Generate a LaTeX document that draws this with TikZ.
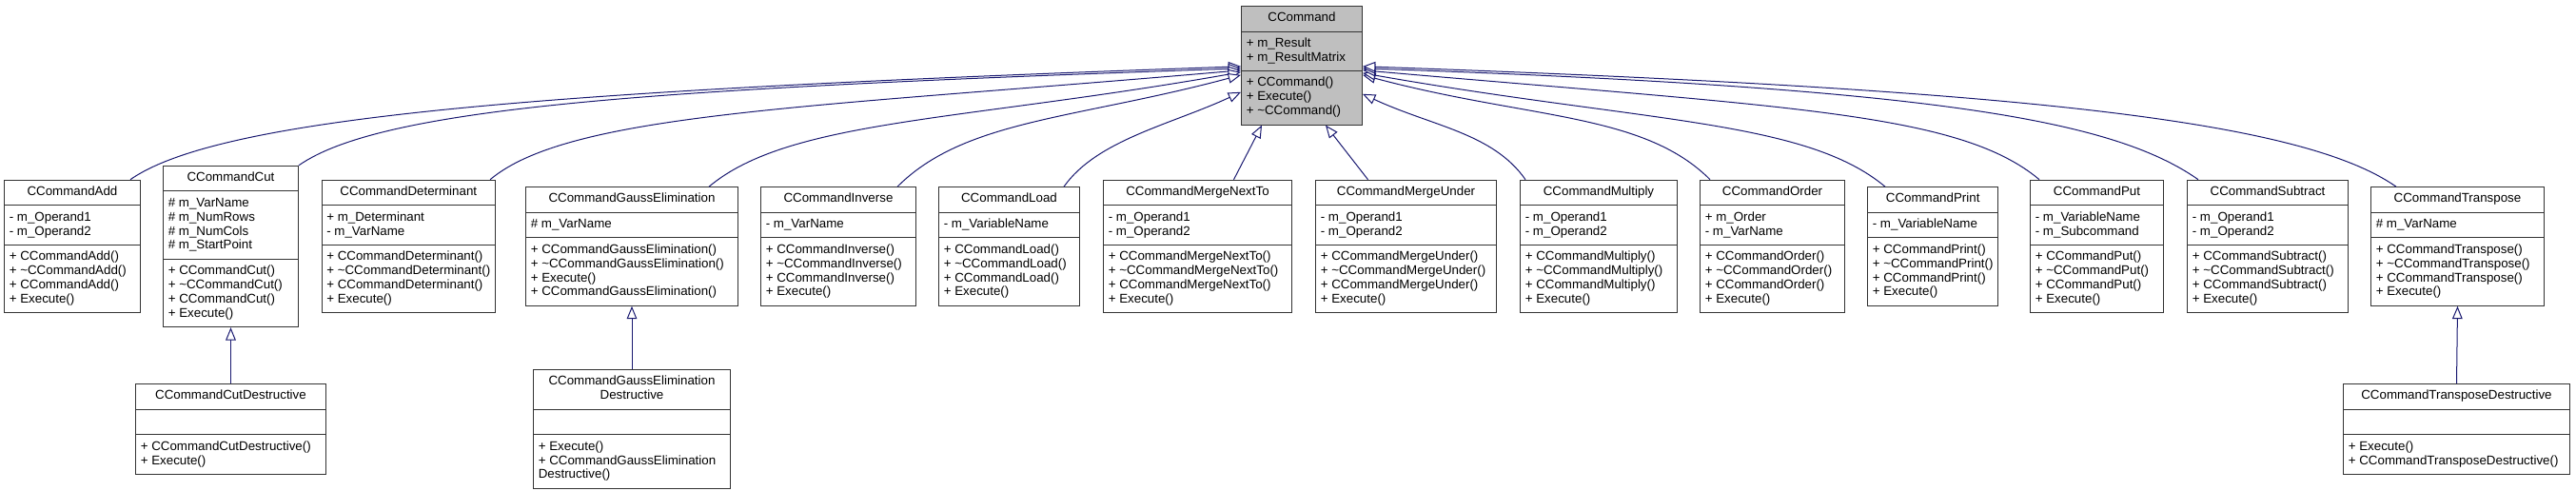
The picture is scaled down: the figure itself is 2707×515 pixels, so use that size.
\documentclass[tikz,border=0pt]{standalone}
\usepackage{fontspec}
\setmainfont{Liberation Sans}
\usetikzlibrary{shapes.multipart,arrows.meta,calc}

\definecolor{edgeblue}{HTML}{191970}
\definecolor{basegrey}{HTML}{BFBFBF}

% the four usual members of a command class
\newcommand{\cmdops}[1]{\strut+ #1()\\\strut+ \textasciitilde#1()\\\strut+ #1()\\\strut+ Execute()}

\tikzset{
	cls/.style={rectangle split, rectangle split parts=3, draw=black!80, line width=0.75pt,
		fill=white, rectangle split part align={center,left,left}, align=left,
		inner xsep=4pt, inner ysep=4pt, font=\fontsize{10}{11.2}\selectfont,
		anchor=north west, minimum width=#1},
	basecls/.style={cls=#1, fill=basegrey},
	inherit/.style={draw=edgeblue, line width=0.75pt,
		-{Triangle[length=10pt, width=8pt, fill=white]}}
}

\begin{document}
\begin{tikzpicture}[x=0.75pt, y=0.75pt]
	\useasboundingbox (0,0) rectangle (2707,-515);

	% base class
	\node[basecls=95.25pt] (cmd) at (1304,-6) {\strut CCommand
		\nodepart{two}\strut+ m\_Result\\\strut+ m\_ResultMatrix
		\nodepart{three}\strut+ CCommand()\\\strut+ Execute()\\\strut+ \textasciitilde CCommand()};

	% derived classes
	\node[cls=107.25pt] (add) at (4,-188.7) {\strut CCommandAdd
		\nodepart{two}\strut- m\_Operand1\\\strut- m\_Operand2
		\nodepart{three}\cmdops{CCommandAdd}};
	\node[cls=106.5pt] (cut) at (171,-173.8) {\strut CCommandCut
		\nodepart{two}\strut\# m\_VarName\\\strut\# m\_NumRows\\\strut\# m\_NumCols\\\strut\# m\_StartPoint
		\nodepart{three}\cmdops{CCommandCut}};
	\node[cls=134.6pt] (det) at (337.5,-188.7) {\strut CCommandDeterminant
		\nodepart{two}\strut+ m\_Determinant\\\strut- m\_VarName
		\nodepart{three}\cmdops{CCommandDeterminant}};
	\node[cls=167.25pt] (gauss) at (552,-196.2) {\strut CCommandGaussElimination
		\nodepart{two}\strut\# m\_VarName
		\nodepart{three}\strut+ CCommandGaussElimination()\\\strut+ \textasciitilde CCommandGaussElimination()\\\strut+ Execute()\\\strut+ CCommandGaussElimination()};
	\node[cls=122.25pt] (inv) at (799,-196.2) {\strut CCommandInverse
		\nodepart{two}\strut- m\_VarName
		\nodepart{three}\cmdops{CCommandInverse}};
	\node[cls=111pt] (load) at (986,-196.2) {\strut CCommandLoad
		\nodepart{two}\strut- m\_VariableName
		\nodepart{three}\cmdops{CCommandLoad}};
	\node[cls=148.5pt] (mnext) at (1159,-188.7) {\strut CCommandMergeNextTo
		\nodepart{two}\strut- m\_Operand1\\\strut- m\_Operand2
		\nodepart{three}\cmdops{CCommandMergeNextTo}};
	\node[cls=142.5pt] (munder) at (1382,-188.7) {\strut CCommandMergeUnder
		\nodepart{two}\strut- m\_Operand1\\\strut- m\_Operand2
		\nodepart{three}\cmdops{CCommandMergeUnder}};
	\node[cls=123.75pt] (mult) at (1597,-188.7) {\strut CCommandMultiply
		\nodepart{two}\strut- m\_Operand1\\\strut- m\_Operand2
		\nodepart{three}\cmdops{CCommandMultiply}};
	\node[cls=114pt] (order) at (1786,-188.7) {\strut CCommandOrder
		\nodepart{two}\strut+ m\_Order\\\strut- m\_VarName
		\nodepart{three}\cmdops{CCommandOrder}};
	\node[cls=102.75pt] (print) at (1962,-196.2) {\strut CCommandPrint
		\nodepart{two}\strut- m\_VariableName
		\nodepart{three}\cmdops{CCommandPrint}};
	\node[cls=105pt] (put) at (2133,-188.7) {\strut CCommandPut
		\nodepart{two}\strut- m\_VariableName\\\strut- m\_Subcommand
		\nodepart{three}\cmdops{CCommandPut}};
	\node[cls=126.75pt] (sub) at (2298,-188.7) {\strut CCommandSubtract
		\nodepart{two}\strut- m\_Operand1\\\strut- m\_Operand2
		\nodepart{three}\cmdops{CCommandSubtract}};
	\node[cls=136.5pt] (trans) at (2491,-196.2) {\strut CCommandTranspose
		\nodepart{two}\strut\# m\_VarName
		\nodepart{three}\cmdops{CCommandTranspose}};

	% destructive variants
	\node[cls=150pt] (cutd) at (142,-403.2) {\strut CCommandCutDestructive
		\nodepart{two}\strut
		\nodepart{three}\strut+ CCommandCutDestructive()\\\strut+ Execute()};
	\node[cls=155.25pt] (gaussd) at (560,-388.2) {\begin{tabular}{@{}c@{}}\strut CCommandGaussElimination\\\strut Destructive\end{tabular}
		\nodepart{two}\strut
		\nodepart{three}\strut+ Execute()\\\strut+ CCommandGaussElimination\\\strut Destructive()};
	\node[cls=178.5pt] (transd) at (2462,-403.2) {\strut CCommandTransposeDestructive
		\nodepart{two}\strut
		\nodepart{three}\strut+ Execute()\\\strut+ CCommandTransposeDestructive()};

	% inheritance, left side
	\draw[inherit] ($(add.north east)+(-11,0)$) .. controls +(35:120) and +(182:700) .. ($(cmd.west)+(0,-1)$);
	\draw[inherit] (cut.north east) .. controls +(35:110) and +(182:600) .. ($(cmd.west)+(0,-3)$);
	\draw[inherit] ($(det.north east)+(-6,0)$) .. controls +(40:110) and +(185:450) .. ($(cmd.west)+(0,-5)$);
	\draw[inherit] ($(gauss.north east)+(-31,0)$) .. controls +(40:110) and +(190:300) .. ($(cmd.west)+(0,-7)$);
	\draw[inherit] ($(inv.north east)+(-20,0)$) .. controls +(45:100) and +(195:180) .. ($(cmd.west)+(0,-10)$);
	\draw[inherit] ($(load.north east)+(-17,0)$) .. controls +(55:60) and +(205:80) .. ($(cmd.west)+(0,-28)$);
	% into the bottom
	\draw[inherit] ($(mnext.north)+(38,0)$) -- ($(cmd.south)+(-42,0)$);
	\draw[inherit] ($(munder.north)+(-40,0)$) -- ($(cmd.south)+(25,0)$);
	% right side
	\draw[inherit] ($(mult.north west)+(6,0)$) .. controls +(125:60) and +(-25:80) .. ($(cmd.east)+(0,-30)$);
	\draw[inherit] ($(order.north west)+(11,0)$) .. controls +(135:100) and +(-15:180) .. ($(cmd.east)+(0,-10)$);
	\draw[inherit] ($(print.north west)+(19,0)$) .. controls +(140:110) and +(-10:300) .. ($(cmd.east)+(0,-8)$);
	\draw[inherit] ($(put.north west)+(10,0)$) .. controls +(140:110) and +(-5:450) .. ($(cmd.east)+(0,-5)$);
	\draw[inherit] ($(sub.north west)+(12,0)$) .. controls +(145:110) and +(-2:600) .. ($(cmd.east)+(0,-3)$);
	\draw[inherit] ($(trans.north west)+(27,0)$) .. controls +(145:120) and +(-2:700) .. ($(cmd.east)+(0,-1)$);

	% second level
	\draw[inherit] (cutd.north) -- (cut.south);
	\draw[inherit] (gaussd.north) -- (gauss.south);
	\draw[inherit] (transd.north) -- (trans.south);
\end{tikzpicture}
\end{document}
